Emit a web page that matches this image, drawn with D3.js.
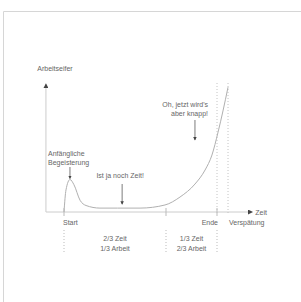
<!DOCTYPE html>
<html>
<head>
<meta charset="utf-8">
<script src="https://cdn.jsdelivr.net/npm/d3@7"></script>
<style>
  body { margin: 0; background: #fff; }
  text { font-family: "Liberation Sans", Arial, sans-serif; font-size: 7px; fill: #666; }
</style>
</head>
<body>
<div id="chart"></div>
<script>
var width = 301,
    height = 302;

// Arbeitseifer über die Zeit (0 = Start, 1 = Ende)
var zeit  = [0, 0.013, 0.039, 0.065, 0.105, 0.144, 0.235, 0.35, 0.497, 0.66, 0.758, 0.856, 0.922, 0.967, 1.007, 1.039, 1.072];
var eifer = [0, 17, 25, 21, 9, 5, 3, 3, 3, 5.4, 11.5, 21.5, 32.3, 43.8, 61.5, 77.7, 96];

var tickZeit   = [0, 2/3, 1];
var tickLabels = ["Start", "", "Ende"];
var verspaetung = 1.072;

var abschnitte = [
  { von: 0, bis: 2/3, zeilen: ["2/3 Zeit", "1/3 Arbeit"] },
  { von: 2/3, bis: 1, zeilen: ["1/3 Zeit", "2/3 Arbeit"] }
];

var notizen = [
  { t: 0.039, v: 25, zeilen: ["Anfängliche", "Begeisterung"] },
  { t: 0.38, v: 3, zeilen: ["Ist ja noch Zeit!"] },
  { t: 0.856, v: 55, zeilen: ["Oh, jetzt wird's", "aber knapp!"] }
];

var x = d3.scaleLinear().domain([0, 1]).range([64, 217]);
var y = d3.scaleLinear().domain([0, 100]).range([212, 82]);

var svg = d3.select('#chart').append('svg')
  .attr('width', width)
  .attr('height', height);

var defs = svg.append('defs');
defs.append('marker').attr('id', 'kopf')
  .attr('viewBox', '0 0 6 6').attr('refX', 5).attr('refY', 3)
  .attr('markerWidth', 5).attr('markerHeight', 5).attr('orient', 'auto')
  .append('path').attr('d', 'M0,0L6,3L0,6Z').attr('fill', '#444');

// rahmen
svg.append('path')
  .attr('d', 'M3.5,' + height + 'V11.5H' + width)
  .attr('fill', 'none').attr('stroke', '#d6d6d6');

var x0 = x(-0.118);

// achsen
svg.append('line')
  .attr('x1', x0).attr('y1', y(0)).attr('x2', x0).attr('y2', y(100) + 2)
  .attr('stroke', '#ccc').attr('marker-end', 'url(#kopf)');
svg.append('line')
  .attr('x1', x0).attr('y1', y(0)).attr('x2', x(1.23)).attr('y2', y(0))
  .attr('stroke', '#ccc').attr('marker-end', 'url(#kopf)');

svg.append('text').attr('x', x0 + 9).attr('y', y(100) - 11)
  .attr('text-anchor', 'middle').text('Arbeitseifer');
svg.append('text').attr('x', x(1.25)).attr('y', y(0) + 2.5).text('Zeit');

// ticks
tickZeit.forEach(function(t, i) {
  svg.append('line')
    .attr('x1', x(t)).attr('x2', x(t)).attr('y1', y(0) - 4).attr('y2', y(0) + 4)
    .attr('stroke', '#bbb');
  svg.append('text')
    .attr('x', x(t) + (i == 0 ? -1 : 1)).attr('y', y(0) + 13)
    .attr('text-anchor', i == 0 ? 'start' : 'end')
    .text(tickLabels[i]);
  svg.append('line')
    .attr('x1', x(t)).attr('x2', x(t)).attr('y1', y(0) + 18).attr('y2', y(0) + 41)
    .attr('stroke', '#bbb').attr('stroke-dasharray', '1,2');
});

// ende / verspätung
[1, verspaetung].forEach(function(t) {
  svg.append('line')
    .attr('x1', x(t)).attr('x2', x(t)).attr('y1', y(100) + 1).attr('y2', y(0) + 3)
    .attr('stroke', '#c4c4c4').attr('stroke-dasharray', '1,2');
});
svg.append('text').attr('x', x(verspaetung) + 1).attr('y', y(0) + 13).text('Verspätung');

abschnitte.forEach(function(a) {
  a.zeilen.forEach(function(z, j) {
    svg.append('text')
      .attr('x', (x(a.von) + x(a.bis)) / 2).attr('y', y(0) + 29 + j * 10)
      .attr('text-anchor', 'middle').text(z);
  });
});

// kurve
var line = d3.line()
  .x(function(d, i) { return x(zeit[i]); })
  .y(function(d) { return y(d); })
  .curve(d3.curveMonotoneX);

svg.append('path')
  .datum(eifer)
  .attr('d', line)
  .attr('fill', 'none')
  .attr('stroke', '#b0b0b0')
  .attr('stroke-width', 1);

// notizen
var n0 = notizen[0];
n0.zeilen.forEach(function(z, j) {
  svg.append('text').attr('x', 48).attr('y', 156 + j * 9).text(z);
});
svg.append('line')
  .attr('x1', x(n0.t)).attr('x2', x(n0.t)).attr('y1', 167).attr('y2', y(n0.v) - 1)
  .attr('stroke', '#444').attr('stroke-width', 0.7).attr('marker-end', 'url(#kopf)');

var n1 = notizen[1];
svg.append('text').attr('x', x(n1.t) - 2).attr('y', 178)
  .attr('text-anchor', 'middle').text(n1.zeilen[0]);
svg.append('line')
  .attr('x1', x(n1.t)).attr('x2', x(n1.t)).attr('y1', 184).attr('y2', y(n1.v) - 4)
  .attr('stroke', '#444').attr('stroke-width', 0.7).attr('marker-end', 'url(#kopf)');

var n2 = notizen[2];
n2.zeilen.forEach(function(z, j) {
  svg.append('text').attr('x', 208).attr('y', 107 + j * 9)
    .attr('text-anchor', 'end').text(z);
});
svg.append('line')
  .attr('x1', x(n2.t)).attr('x2', x(n2.t)).attr('y1', 120).attr('y2', 140)
  .attr('stroke', '#444').attr('stroke-width', 0.7).attr('marker-end', 'url(#kopf)');
</script>
</body>
</html>
